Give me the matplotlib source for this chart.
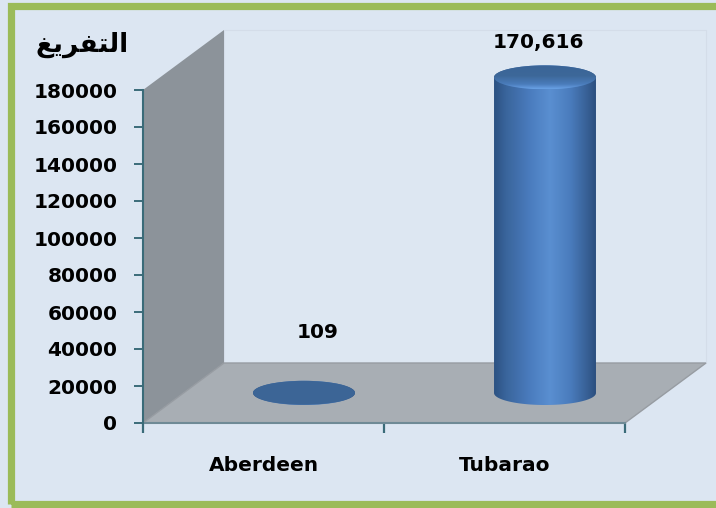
import numpy as np
import matplotlib
matplotlib.use("Agg")
import matplotlib.pyplot as plt
from matplotlib import transforms
from matplotlib.patches import Polygon, Rectangle, Ellipse, PathPatch
from matplotlib.path import Path
from matplotlib.colors import LinearSegmentedColormap

# ---- data ----
categories = ["Aberdeen", "Tubarao"]
values = [109, 170616]
value_labels = ["109", "170,616"]
yticks = [0, 20000, 40000, 60000, 80000, 100000, 120000, 140000, 160000, 180000]
title = "\uFECE\uFEF3\uFEAE\uFED4\uFE98\uFEDF\uFE8D"  # التفريغ (shaped, visual order)

# ---- styling ----
BG = "#dce6f2"
GREEN = "#9bbb59"
TEAL = "#3a6b79"
FONT = "DejaVu Sans"

fig = plt.figure(figsize=(7.16, 5.08), dpi=100, facecolor=BG)
W, H = 716, 508

# green frame
fig.add_artist(Rectangle((10.5 / W, 4.5 / H), (720 - 10.5) / W, (503.5 - 5.5) / H,
                         transform=fig.transFigure, fill=False,
                         edgecolor=GREEN, linewidth=5.2, clip_on=False))

ax = fig.add_axes([143 / W, (H - 423) / H, 482 / W, 333 / H])
ax.set_facecolor("none")

# depth (3D look)
ddx, ddy = 81, 60  # pixels
dxa, dya = ddx / 482, ddy / 333

# back wall (faint)
ax.add_patch(Polygon([(dxa, dya), (1 + dxa, dya), (1 + dxa, 1 + dya), (dxa, 1 + dya)],
                     closed=True, transform=ax.transAxes, facecolor="#dde7f2",
                     edgecolor="#d4dde9", lw=0.8, clip_on=False, zorder=0.3))
# left wall
ax.add_patch(Polygon([(0, 0), (0, 1), (dxa, 1 + dya), (dxa, dya)], closed=True,
                     transform=ax.transAxes, facecolor="#8c939a", edgecolor="none",
                     clip_on=False, zorder=0.5))
# floor
ax.add_patch(Polygon([(0, 0), (1, 0), (1 + dxa, dya), (dxa, dya)], closed=True,
                     transform=ax.transAxes, facecolor="#a8aeb4", edgecolor="#979ca2",
                     lw=1.0, clip_on=False, zorder=0.5))

# cylinders
trans = ax.transData + transforms.ScaledTranslation(ddx / 2 / 100, ddy / 2 / 100,
                                                     fig.dpi_scale_trans)
cw = 0.423
eh = 24 * 180000 / 333
cmap = LinearSegmentedColormap.from_list(
    "cyl", [(0.0, "#2c5283"), (0.12, "#3a659c"), (0.35, "#4a7cbe"),
            (0.55, "#5a8fd1"), (0.75, "#4a7cbd"), (0.92, "#375f94"), (1.0, "#2b4f7f")])
tcmap = LinearSegmentedColormap.from_list(
    "top", [(0.0, "#6aa2e6"), (0.2, "#4a7cbb"), (0.55, "#3d6899"), (1.0, "#3a6497")])
grad = np.linspace(0, 1, 256).reshape(1, -1)
vgrad = np.linspace(0, 1, 128).reshape(-1, 1)

for i, v in enumerate(values):
    th1 = np.linspace(np.pi, 2 * np.pi, 80)
    th2 = np.linspace(0, np.pi, 80)
    xs = np.concatenate([i + cw / 2 * np.cos(th1), i + cw / 2 * np.cos(th2)])
    ys = np.concatenate([eh / 2 * np.sin(th1), v + eh / 2 * np.sin(th2)])
    verts = np.column_stack([xs, ys])
    body = PathPatch(Path(np.vstack([verts, verts[:1]]), closed=True),
                     facecolor="none", edgecolor="none", transform=trans, zorder=2)
    ax.add_patch(body)
    im = ax.imshow(grad, cmap=cmap, aspect="auto",
                   extent=[i - cw / 2, i + cw / 2, -eh / 2, v + eh / 2],
                   transform=trans, zorder=2, interpolation="bilinear")
    im.set_clip_box(fig.bbox)
    im.set_clip_path(body)
    top = Ellipse((i, v), cw, eh, transform=trans, facecolor="none",
                  edgecolor="none", zorder=3)
    ax.add_patch(top)
    if v > 10000:
        tim = ax.imshow(vgrad, cmap=tcmap, aspect="auto",
                        extent=[i - cw / 2, i + cw / 2, v - eh / 2, v + eh / 2],
                        origin="lower", transform=trans, zorder=3,
                        interpolation="bilinear")
        tim.set_clip_box(fig.bbox)
        tim.set_clip_path(top)
    else:
        top.set_facecolor("#3c6596")
    top.set_clip_on(False)

ax.set_xlim(-0.5, len(categories) - 0.5)
ax.set_ylim(0, 180000)

# value labels
label_offsets = [(54, 90), (34, 65)]
for i, (v, t) in enumerate(zip(values, value_labels)):
    ax.annotate(t, (i, v), xytext=label_offsets[i], textcoords="offset pixels",
                ha="center", va="center", fontsize=14.5, fontweight="bold",
                family=FONT, color="black", annotation_clip=False)

# axes styling
for s in ["top", "right"]:
    ax.spines[s].set_visible(False)
ax.spines["left"].set_color(TEAL)
ax.spines["bottom"].set_color("#6f8a96")
ax.spines["left"].set_linewidth(1.5)
ax.spines["bottom"].set_linewidth(1.5)
ax.spines["left"].set_zorder(4)

ax.set_yticks(yticks)
ax.set_yticklabels([str(t) for t in yticks])
ax.tick_params(axis="y", length=6.5, width=1.4, color=TEAL, pad=12,
               labelsize=14.5)
ax.set_xticks(range(len(categories)))
ax.set_xticklabels(categories)
ax.set_xticks([-0.5, 0.5, 1.5], minor=True)
ax.tick_params(axis="x", which="major", length=0, pad=24, labelsize=14.5)
ax.tick_params(axis="x", which="minor", length=7.2, width=1.6, color=TEAL)
for lab in ax.get_xticklabels() + ax.get_yticklabels():
    lab.set_fontweight("bold")
    lab.set_family(FONT)

fig.text(82 / W, 1 - 45 / H, title, ha="center", va="center", fontsize=19,
         fontweight="bold", family=["DejaVu Sans"])

fig.savefig("out.png", dpi=100, facecolor=BG)
